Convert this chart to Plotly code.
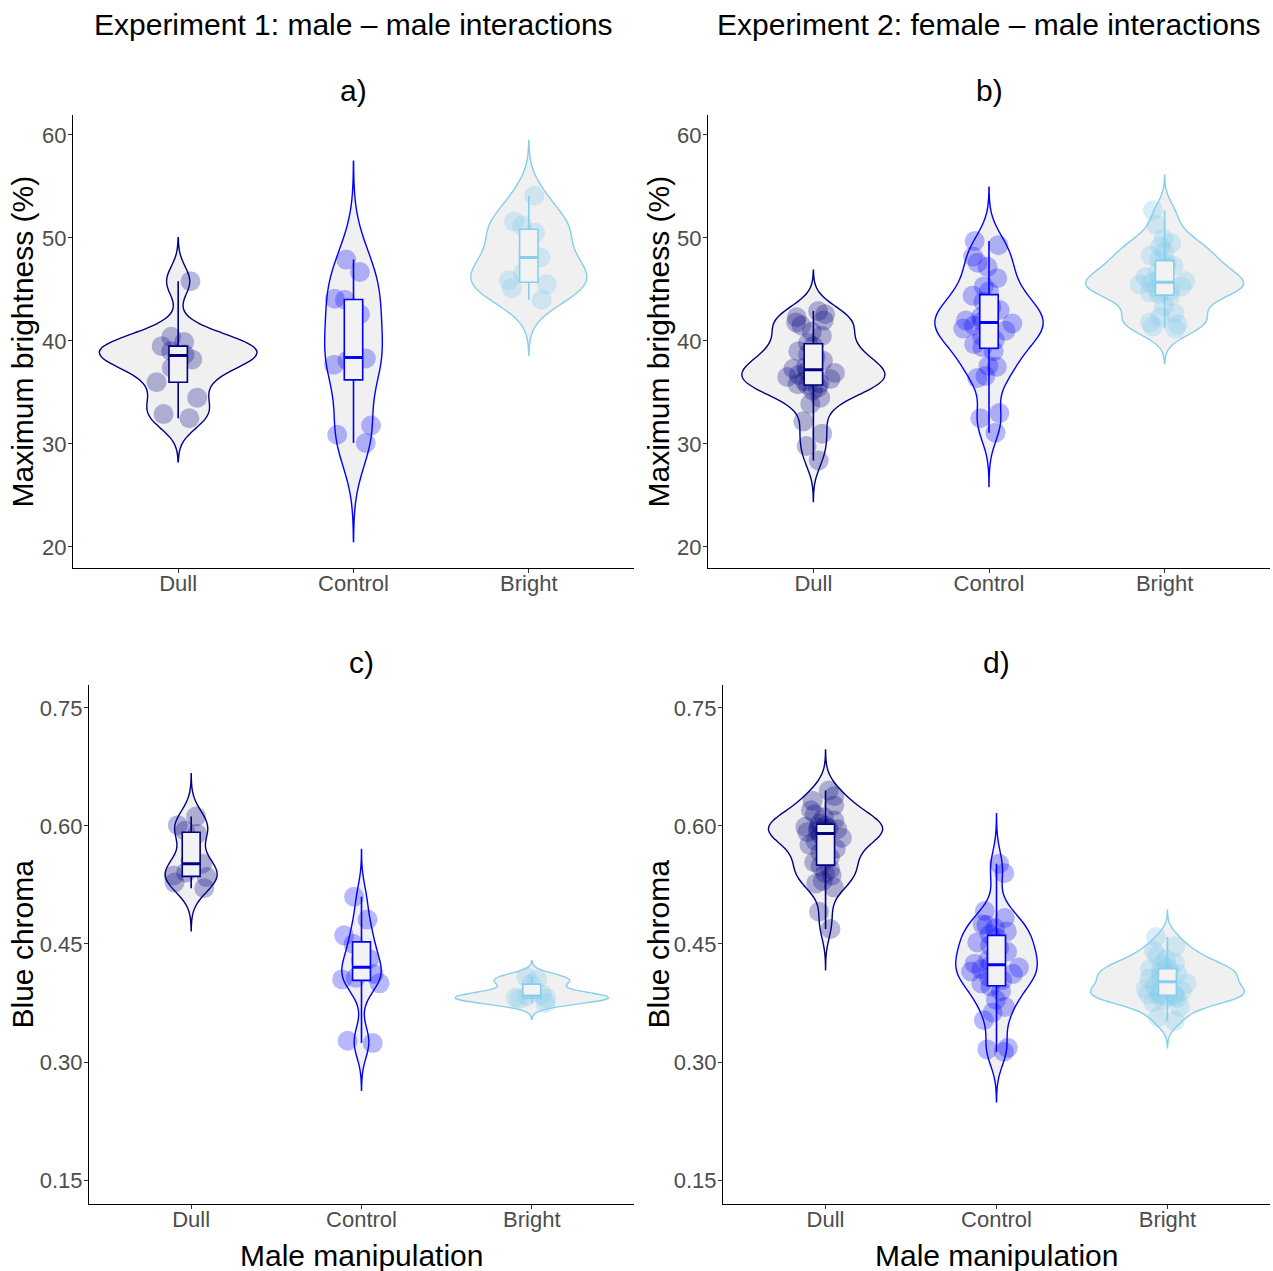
import numpy as np
import plotly.graph_objects as go

# ---------------- data ----------------
CATEGORIES = ["Dull", "Control", "Bright"]

# Experiment 1 – maximum brightness (%)
exp1_brightness_dull = [45.8, 40.4, 39.9, 39.5, 39.0, 38.7, 38.6, 38.2, 37.4, 36.0, 34.5, 32.9, 32.5]
exp1_brightness_control = [47.9, 46.7, 44.1, 44.0, 42.6, 38.5, 38.3, 38.1, 37.7, 31.8, 30.9, 30.1]
exp1_brightness_bright = [54.1, 51.6, 51.2, 50.5, 48.2, 48.1, 46.6, 45.9, 45.5, 45.1, 44.0]

# Experiment 2 – maximum brightness (%)
exp2_brightness_dull = [42.9, 42.6, 42.3, 42.0, 41.8, 41.5, 40.9, 40.5, 39.8, 39.5, 39.0, 38.7,
                        38.4, 38.1, 37.8, 37.5, 37.3, 37.1, 36.9, 36.7, 36.5, 36.3, 36.1, 35.9,
                        35.8, 35.7, 35.5, 35.2, 34.5, 33.9, 32.2, 31.0, 29.8, 28.4]
exp2_brightness_control = [31.1, 32.5, 33.0, 36.4, 36.6, 37.5, 37.6, 39.0, 39.4, 39.7, 40.1, 40.5,
                           41.0, 41.2, 41.5, 41.7, 41.9, 42.0, 42.3, 42.7, 43.0, 43.3, 43.8, 44.4,
                           44.8, 45.3, 46.1, 47.2, 47.6, 48.2, 49.3, 49.7]
exp2_brightness_bright = [41.2, 41.4, 41.6, 41.8, 42.3, 42.7, 43.4, 44.4, 44.6, 44.7, 44.9, 45.1,
                          45.3, 45.5, 45.6, 45.8, 46.0, 46.2, 46.6, 47.0, 47.3, 47.5, 47.9, 48.3,
                          48.6, 49.2, 49.5, 49.9, 51.3, 52.7]

# Experiment 1 – blue chroma
exp1_chroma_dull = [0.612, 0.601, 0.594, 0.590, 0.556, 0.552, 0.541, 0.537, 0.535, 0.528, 0.521]
exp1_chroma_control = [0.510, 0.481, 0.461, 0.450, 0.431, 0.429, 0.412, 0.407, 0.405, 0.400, 0.327, 0.324]
exp1_chroma_bright = [0.408, 0.405, 0.399, 0.386, 0.384, 0.382, 0.381, 0.380, 0.375]

# Experiment 2 – blue chroma
exp2_chroma_dull = [0.469, 0.491, 0.522, 0.527, 0.530, 0.537, 0.540, 0.545, 0.549, 0.554, 0.560, 0.566,
                    0.571, 0.576, 0.581, 0.585, 0.589, 0.592, 0.594, 0.595, 0.596, 0.597, 0.598, 0.599,
                    0.600, 0.603, 0.607, 0.611, 0.615, 0.620, 0.626, 0.632, 0.638, 0.645]
exp2_chroma_control = [0.313, 0.316, 0.318, 0.353, 0.363, 0.370, 0.379, 0.390, 0.396, 0.400, 0.404, 0.408,
                       0.412, 0.415, 0.418, 0.420, 0.422, 0.425, 0.430, 0.434, 0.440, 0.445, 0.448, 0.452,
                       0.458, 0.462, 0.466, 0.470, 0.474, 0.475, 0.483, 0.492, 0.540, 0.552]
exp2_chroma_bright = [0.352, 0.357, 0.370, 0.376, 0.379, 0.381, 0.383, 0.384, 0.385, 0.386, 0.387, 0.388,
                      0.390, 0.393, 0.396, 0.400, 0.404, 0.406, 0.408, 0.410, 0.412, 0.414, 0.416, 0.418,
                      0.420, 0.423, 0.426, 0.430, 0.435, 0.441, 0.447, 0.459]

BRIGHTNESS_TICKS = [20, 30, 40, 50, 60]
BRIGHTNESS_TICKTEXT = ["20", "30", "40", "50", "60"]
CHROMA_TICKS = [0.15, 0.30, 0.45, 0.60, 0.75]
CHROMA_TICKTEXT = ["0.15", "0.30", "0.45", "0.60", "0.75"]

# ---------------- styles ----------------
W, H = 1273, 1271
LINE_COLORS = {"Dull": "#000080", "Control": "#0000FF", "Bright": "#87CEEB"}
POINT_COLORS = {"Dull": "rgba(0,0,128,0.28)", "Control": "rgba(0,0,255,0.28)",
                "Bright": "rgba(135,206,235,0.32)"}
VIOLIN_FILL = "#F0F0F0"
BOX_FILL = "#F2F2F2"
FONT = "Liberation Sans, Arial, Helvetica, sans-serif"


def px_x(p):
    return p / W


def px_y(p):
    return 1 - p / H


def nrd0(v):
    v = np.asarray(v, float)
    sd = v.std(ddof=1)
    q75, q25 = np.percentile(v, [75, 25])
    lo = min(sd, (q75 - q25) / 1.34)
    if lo <= 0:
        lo = sd if sd > 0 else 1.0
    return 0.9 * lo * len(v) ** -0.2


panels = [
    ("a", "", {"Dull": exp1_brightness_dull, "Control": exp1_brightness_control,
               "Bright": exp1_brightness_bright},
     (73, 634), (115, 568), [17.96, 61.94], BRIGHTNESS_TICKS, BRIGHTNESS_TICKTEXT),
    ("b", "2", {"Dull": exp2_brightness_dull, "Control": exp2_brightness_control,
                "Bright": exp2_brightness_bright},
     (708, 1270), (115, 568), [17.96, 61.94], BRIGHTNESS_TICKS, BRIGHTNESS_TICKTEXT),
    ("c", "3", {"Dull": exp1_chroma_dull, "Control": exp1_chroma_control,
                "Bright": exp1_chroma_bright},
     (89, 634), (685, 1204), [0.1195, 0.7792], CHROMA_TICKS, CHROMA_TICKTEXT),
    ("d", "4", {"Dull": exp2_chroma_dull, "Control": exp2_chroma_control,
                "Bright": exp2_chroma_bright},
     (723, 1270), (685, 1204), [0.1195, 0.7792], CHROMA_TICKS, CHROMA_TICKTEXT),
]

fig = go.Figure()
layout_axes = {}

for key, sfx, data, xd, yd, yr, tv, tt in panels:
    xa, ya = "x" + sfx, "y" + sfx
    # violins with jittered points
    for cat in CATEGORIES:
        vals = data[cat]
        bw = nrd0(vals)
        fig.add_trace(go.Violin(
            x=[cat] * len(vals), y=vals, xaxis=xa, yaxis=ya,
            scalegroup=key, scalemode="width",
            bandwidth=bw, spanmode="manual", span=[min(vals) - 3 * bw, max(vals) + 3 * bw],
            fillcolor=VIOLIN_FILL, line=dict(color=LINE_COLORS[cat], width=1.4),
            points="all", pointpos=0, jitter=0.34,
            marker=dict(size=20, color=POINT_COLORS[cat], line=dict(width=0)),
            box=dict(visible=False), meanline=dict(visible=False),
            showlegend=False, hoverinfo="skip",
        ))
    # boxes (whiskers from min to max), drawn above the points
    for cat in CATEGORIES:
        vals = np.asarray(data[cat], float)
        q1, med, q3 = np.percentile(vals, [25, 50, 75])
        fig.add_trace(go.Box(
            x=[cat], q1=[q1], median=[med], q3=[q3],
            lowerfence=[vals.min()], upperfence=[vals.max()],
            xaxis=xa, yaxis=ya, width=0.105, whiskerwidth=0,
            fillcolor=BOX_FILL, line=dict(color=LINE_COLORS[cat], width=1.6),
            boxpoints=False, showlegend=False, hoverinfo="skip",
        ))
        # thicker median bar
        fig.add_trace(go.Box(
            x=[cat], q1=[med], median=[med], q3=[med],
            lowerfence=[med], upperfence=[med],
            xaxis=xa, yaxis=ya, width=0.105, whiskerwidth=0,
            fillcolor=BOX_FILL, line=dict(color=LINE_COLORS[cat], width=3.0),
            boxpoints=False, showlegend=False, hoverinfo="skip",
        ))

    axis_common = dict(showline=True, linecolor="#000000", linewidth=1.2, showgrid=False,
                       zeroline=False, ticks="outside", ticklen=4, tickwidth=1.1,
                       tickcolor="#333333", tickfont=dict(size=22, color="#4D4D4D", family=FONT))
    layout_axes["xaxis" + sfx] = dict(axis_common, domain=[px_x(xd[0]), px_x(xd[1])], anchor=ya,
                                      type="category", categoryorder="array",
                                      categoryarray=CATEGORIES, range=[-0.6, 2.6],
                                      ticklabelstandoff=-9)
    layout_axes["yaxis" + sfx] = dict(axis_common, domain=[px_y(yd[1]), px_y(yd[0])], anchor=xa,
                                      range=yr, tickmode="array", tickvals=tv, ticktext=tt,
                                      ticklabelstandoff=-3)

annotations = []


def add_text(text, x, y, size=30, angle=0):
    annotations.append(dict(text=text, x=px_x(x), y=px_y(y), xref="paper", yref="paper",
                            showarrow=False, xanchor="center", yanchor="middle",
                            textangle=angle, font=dict(size=size, color="#000000", family=FONT)))


add_text("Experiment 1: male \u2013 male interactions", 353.5, 25)
add_text("Experiment 2: female \u2013 male interactions", 989, 25)
add_text("a)", 353.5, 91)
add_text("b)", 989, 91)
add_text("c)", 361.5, 662)
add_text("d)", 996.5, 662)
add_text("Maximum brightness (%)", 22, 341.5, angle=-90)
add_text("Maximum brightness (%)", 658, 341.5, angle=-90)
add_text("Blue chroma", 22, 944.5, angle=-90)
add_text("Blue chroma", 658, 944.5, angle=-90)
add_text("Male manipulation", 361.5, 1255)
add_text("Male manipulation", 996.5, 1255)

fig.update_layout(
    width=W, height=H, margin=dict(l=0, r=0, t=0, b=0),
    paper_bgcolor="white", plot_bgcolor="white",
    violinmode="overlay", violingap=0.1, violingroupgap=0,
    boxmode="overlay", boxgap=0, boxgroupgap=0,
    showlegend=False, annotations=annotations,
    font=dict(family=FONT),
    **layout_axes,
)

fig.write_html("out.html")
